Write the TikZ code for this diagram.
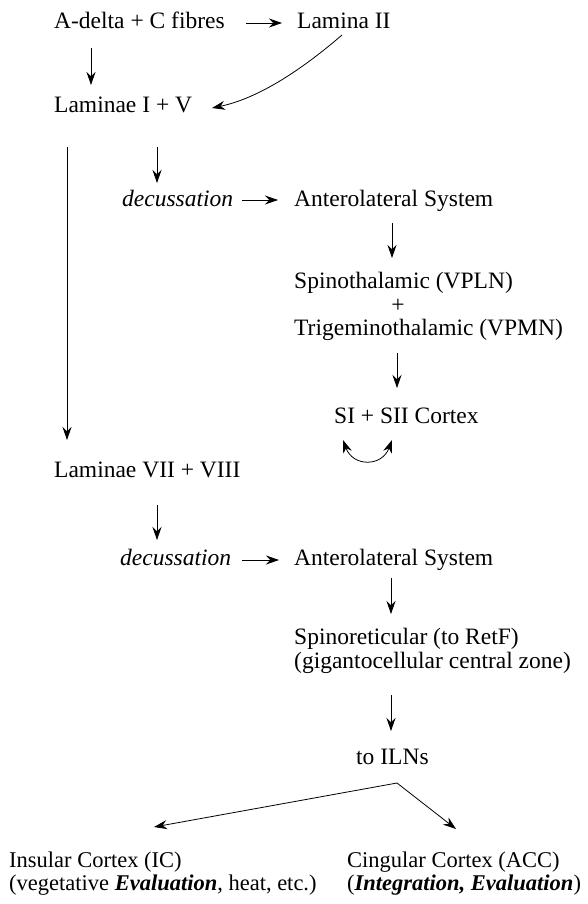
\documentclass[tikz,border=0pt]{standalone}
\usepackage{fontspec}
\setmainfont{Liberation Serif}
\usetikzlibrary{arrows.meta,calc}
\begin{document}
\begin{tikzpicture}[x=1pt,y=-1pt,
 lbl/.style={anchor=base west,inner sep=0pt,font=\fontsize{23.5}{22}\selectfont},
 lblb/.style={lbl,font=\fontsize{22.5}{22}\selectfont},
 tip/.tip={Stealth[length=13pt,width=9pt]},
 arr/.style={-tip,line width=0.8pt},
 darr/.style={tip-tip,line width=0.8pt}]
\useasboundingbox (0,0) rectangle (588,904);
\node[lbl] (a) at (54,29) {A-delta + C fibres};
\node[lbl] (l2) at (297,29) {Lamina II};
\node[lbl] (l15) at (54,113) {Laminae I + V};
\node[lbl] (d1) at (122,207) {\textit{decussation}};
\node[lbl] (al1) at (294,207) {Anterolateral System};
\node[lbl] (sp) at (294,288) {Spinothalamic (VPLN)};
\node[lbl,anchor=base] (pl) at (398,312) {+};
\node[lbl] (tr) at (294,335) {Trigeminothalamic (VPMN)};
\node[lbl] (si) at (334,423) {SI + SII Cortex};
\node[lbl] (l78) at (54,477) {Laminae VII + VIII};
\node[lbl] (d2) at (120,565) {\textit{decussation}};
\node[lbl] (al2) at (294,565) {Anterolateral System};
\node[lbl] (sr) at (294,644) {Spinoreticular (to RetF)};
\node[lbl] (gc) at (294,668) {(gigantocellular central zone)};
\node[lbl] (iln) at (356,764) {to ILNs};
\node[lblb] (ic) at (9,867) {Insular Cortex (IC)};
\node[lblb] (ic2) at (9,890) {(vegetative \textbf{\textit{Evaluation}}, heat, etc.)};
\node[lblb] (acc) at (347,867) {Cingular Cortex (ACC)};
\node[lblb] (acc2) at (347,890) {(\textbf{\textit{Integration, Evaluation}})};

\draw[arr] ($(l2.base west)+(-51,-6)$) -- ($(l2.base west)+(-15,-6)$);
\draw[arr] ($(a.base west)+(37,19)$) -- ($(l15.base west)+(37,-28)$);
\draw[arr] ($(l2.base west)+(45,6)$) .. controls (313,60) and (265,97) .. ($(l15.base west)+(158,-5)$);
\draw[arr] ($(l15.base west)+(13,34)$) -- ($(l78.base west)+(13,-37)$);
\draw[arr] ($(d1.base west)+(35,-60)$) -- ($(d1.base west)+(35,-24)$);
\draw[arr] ($(al1.base west)+(-52,-7)$) -- ($(al1.base west)+(-16,-7)$);
\draw[arr] ($(al1.base west)+(98,16)$) -- ($(sp.base west)+(98,-30)$);
\draw[arr] ($(tr.base west)+(103,18)$) -- ($(si.base west)+(63,-35)$);
\draw[darr] ($(si.base west)+(9,17)$) .. controls (353,467) and (382,467) .. ($(si.base west)+(58,17)$);
\draw[arr] ($(l78.base west)+(103,28)$) -- ($(d2.base west)+(37,-25)$);
\draw[arr] ($(al2.base west)+(-52,-5)$) -- ($(al2.base west)+(-15,-5)$);
\draw[arr] ($(al2.base west)+(97,13)$) -- ($(sr.base west)+(97,-30)$);
\draw[arr] ($(gc.base west)+(97,27)$) -- ($(iln.base west)+(35,-33)$);
\draw[arr] ($(iln.base west)+(41,19)$) -- ($(ic.base west)+(145,-40)$);
\draw[arr] ($(iln.base west)+(41,19)$) -- ($(acc.base west)+(109,-38)$);
\end{tikzpicture}
\end{document}
